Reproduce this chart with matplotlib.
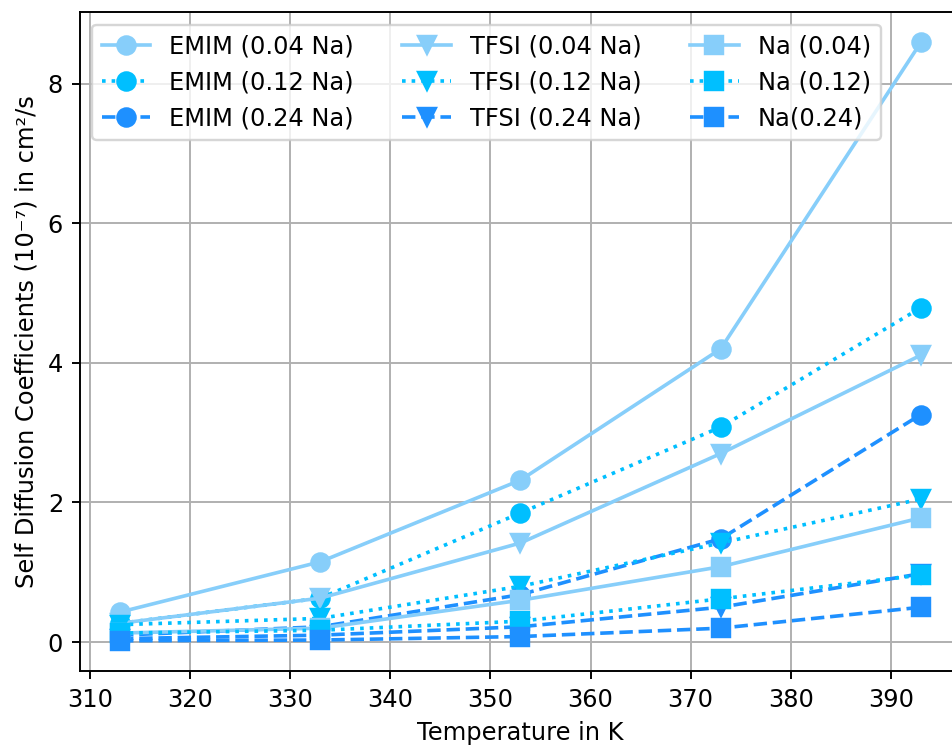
import matplotlib.pyplot as plt

# temperatures (K)
temps = [313, 333, 353, 373, 393]

# self diffusion coefficients (1e-7 cm^2/s)
emim_004 = [0.43, 1.15, 2.32, 4.20, 8.59]
emim_012 = [0.27, 0.63, 1.85, 3.08, 4.79]
emim_024 = [0.10, 0.22, 0.68, 1.48, 3.26]

tfsi_004 = [0.27, 0.63, 1.42, 2.70, 4.11]
tfsi_012 = [0.25, 0.34, 0.80, 1.42, 2.05]
tfsi_024 = [0.05, 0.10, 0.22, 0.50, 0.98]

na_004 = [0.13, 0.20, 0.60, 1.08, 1.78]
na_012 = [0.13, 0.17, 0.30, 0.62, 0.96]
na_024 = [0.02, 0.03, 0.08, 0.20, 0.50]

labels = ["EMIM (0.04 Na)", "EMIM (0.12 Na)", "EMIM (0.24 Na)",
          "TFSI (0.04 Na)", "TFSI (0.12 Na)", "TFSI (0.24 Na)",
          "Na (0.04)", "Na (0.12)", "Na(0.24)"]

series = [emim_004, emim_012, emim_024,
          tfsi_004, tfsi_012, tfsi_024,
          na_004, na_012, na_024]

colors = ["lightskyblue", "deepskyblue", "dodgerblue"]
styles = ["-", ":", "--"]
markers = ["o", "v", "s"]

dpi = 174
fig = plt.figure(figsize=(952 / dpi, 748 / dpi), dpi=dpi)
ax = fig.add_axes([0.084, 0.1034, 0.9254, 0.880])

for i, (vals, lab) in enumerate(zip(series, labels)):
    ax.plot(temps, vals, color=colors[i % 3], linestyle=styles[i % 3],
            marker=markers[i // 3], markersize=7.5, linewidth=1.5, label=lab)

ax.set_xlim(309, 397)
ax.set_xticks(range(310, 400, 10))
ax.set_yticks([0, 2, 4, 6, 8])
ax.grid(True)
ax.set_xlabel("Temperature in K")
ax.set_ylabel("Self Diffusion Coefficients (10\u207b\u2077) in cm\u00b2/s")
ax.legend(loc="upper left", ncol=3)

fig.savefig("out.png", dpi=dpi)
